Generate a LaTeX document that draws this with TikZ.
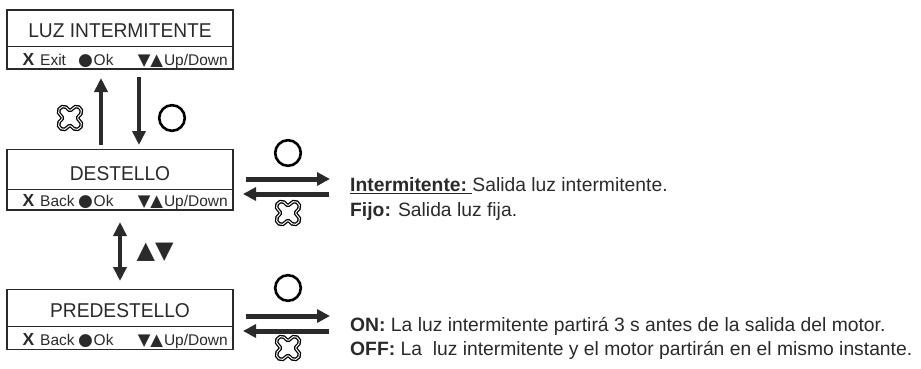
\documentclass[tikz,border=0pt]{standalone}
\usepackage{fontspec}
\setmainfont{Liberation Sans}
\newfontfamily\narrowfont[FakeStretch=0.96]{Liberation Sans}
\newfontfamily\symfont{DejaVu Sans}
\usetikzlibrary{arrows.meta}
\definecolor{ink}{HTML}{2A2A2A}
\newcommand\keyrow[3]{%
  \node[keytxt,font=\bfseries\fontsize{17.5}{18}\selectfont] (#1x) at (22.5,#3) {X};
  \node[keytxt] (#1w) at (40,#3) {#2};
  \node[keytxt,font=\symfont\fontsize{17}{18}\selectfont] (#1c) at (78,#3) {●};
  \node[keytxt] (#1o) at ([xshift=0.3pt]#1c.base east) {Ok};
  \node[keytxt,anchor=base east] (#1u) at (228,#3) {Up/Down};
  \node[keytxt,anchor=base east,font=\symfont\fontsize{16.5}{18}\selectfont] (#1t) at ([xshift=-0.5pt]#1u.base west) {▼▲};
}
\begin{document}
\begin{tikzpicture}[x=1pt,y=-1pt,
  cell/.style={draw=ink,line width=1.2pt,minimum width=226pt,inner sep=0pt,outer sep=0pt},
  titletxt/.style={font=\narrowfont\fontsize{20}{24}\selectfont,text=ink,anchor=base,inner sep=0pt},
  keytxt/.style={font=\fontsize{15.5}{18}\selectfont,text=ink,anchor=base west,inner sep=0pt},
  desc/.style={font=\fontsize{19.3}{22}\selectfont,text=ink,anchor=base west,inner sep=0pt},
  vfat/.style={draw=ink,line width=4.5pt,-{Triangle[width=13pt,length=14pt]}},
  hfat/.style={draw=ink,line width=5pt,-{Triangle[width=13pt,length=13pt]}},
  okbtn/.pic={\draw[line width=2.6pt,black] (0,0) circle (12.8);},
  xbtn/.pic={\draw[line width=1.3pt,black,double=white,double distance=1pt,rotate=45]
     (7.862,-4.8175) \foreach \k in {0,1,2,3}{
        arc[start angle={90*\k-105.52}, end angle={90*\k+105.52}, radius=5]
        arc[start angle={90*\k+285.52}, end angle={90*\k+164.48}, radius=2.473]
     } -- cycle;},
]
\useasboundingbox (0,0) rectangle (921,369);

% ---- boxes
\node[cell,minimum height=36.7pt] (b1t) at (120,28.35) {};
\node[cell,minimum height=22.3pt] (b1k) at (120,57.85) {};
\node[cell,minimum height=40pt]   (b2t) at (120,169.3) {};
\node[cell,minimum height=20.7pt] (b2k) at (120,199.65) {};
\node[cell,minimum height=37.4pt] (b3t) at (120,308) {};
\node[cell,minimum height=22.6pt] (b3k) at (120,338) {};

\node[titletxt] (l1) at (120,37.3) {LUZ INTERMITENTE};
\node[titletxt] (l2) at (120,180) {DESTELLO};
\node[titletxt] (l3) at (120,317) {PREDESTELLO};

\keyrow{k1}{Exit}{65.5}
\keyrow{k2}{Back}{206.5}
\keyrow{k3}{Back}{345.5}

% ---- vertical arrows
\coordinate (u1) at (101,145);
\coordinate (u2) at (101,78);
\coordinate (d1) at (139,77);
\coordinate (d2) at (139,145);
\draw[vfat] (u1) -- (u2);
\draw[vfat] (d1) -- (d2);
\pic at (70,118) {xbtn};
\pic at (172,118) {okbtn};

\coordinate (m1) at (120,222);
\coordinate (m2) at (120,281);
\draw[vfat,{Triangle[width=13pt,length=14pt]}-{Triangle[width=13pt,length=14pt]}] (m1) -- (m2);
\node[font=\symfont\fontsize{24}{26}\selectfont,text=ink,inner sep=0pt] (ud) at (155,252) {▲▼};

% ---- horizontal arrows (DESTELLO)
\coordinate (r1a) at (246,179);
\coordinate (r1b) at (330,179);
\coordinate (r1c) at (329,194);
\coordinate (r1d) at (243,194);
\draw[hfat] (r1a) -- (r1b);
\draw[hfat] (r1c) -- (r1d);
\pic at (288,153) {okbtn};
\pic at (288,213) {xbtn};

% ---- horizontal arrows (PREDESTELLO)
\coordinate (r2a) at (246,316);
\coordinate (r2b) at (330,316);
\coordinate (r2c) at (329,331);
\coordinate (r2d) at (243,331);
\draw[hfat] (r2a) -- (r2b);
\draw[hfat] (r2c) -- (r2d);
\pic at (288,288) {okbtn};
\pic at (288,348) {xbtn};

% ---- descriptions
\node[desc] (t1) at (350,191.5) {\underline{\textbf{Intermitente:}\ }Salida luz intermitente.};
\node[desc] (t2) at (350,216) {\textbf{Fijo:} Salida luz fija.};
\node[desc] (t3) at (350,331) {\textbf{ON:} La luz intermitente partirá 3 s antes de la salida del motor.};
\node[desc] (t4) at (350,355) {\textbf{OFF:} La\ \ luz intermitente y el motor partirán en el mismo instante.};
\end{tikzpicture}
\end{document}
